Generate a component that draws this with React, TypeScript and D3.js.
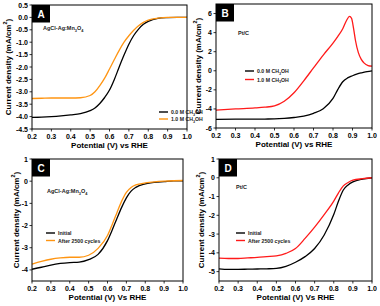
import React from "react";
import * as d3 from "d3";

// ---------- data ----------
const xA = [0.2, 0.25, 0.3, 0.35, 0.4, 0.45, 0.5, 0.525, 0.55, 0.575, 0.6, 0.625, 0.65, 0.675, 0.7, 0.725, 0.75, 0.775, 0.8, 0.85, 0.9, 0.95, 1.0];
const aBlack = [-4.03, -4.02, -4.0, -3.97, -3.93, -3.88, -3.76, -3.65, -3.47, -3.23, -2.93, -2.5, -2.0, -1.52, -1.08, -0.73, -0.47, -0.28, -0.16, -0.04, -0.01, 0, 0];
const aOrange = [-3.27, -3.26, -3.25, -3.25, -3.25, -3.24, -3.15, -3.0, -2.75, -2.45, -2.08, -1.7, -1.33, -1.0, -0.74, -0.52, -0.34, -0.2, -0.11, -0.03, 0, 0, 0];

const xB0 = [0.2, 0.3, 0.4, 0.45, 0.5, 0.55, 0.6, 0.65, 0.7, 0.75, 0.8, 0.825, 0.85, 0.875, 0.9, 0.925, 0.95, 0.975, 1.0];
const bBlack = [-5.1, -5.08, -5.07, -5.06, -5.05, -5.0, -4.9, -4.75, -4.46, -3.98, -2.9, -1.95, -1.15, -0.75, -0.52, -0.33, -0.2, -0.08, 0.0];
const xB1 = [0.2, 0.3, 0.4, 0.45, 0.5, 0.55, 0.6, 0.65, 0.7, 0.75, 0.8, 0.825, 0.85, 0.87, 0.885, 0.895, 0.905, 0.915, 0.93, 0.945, 0.96, 0.98, 1.0];
const bRed = [-4.12, -4.0, -3.9, -3.82, -3.68, -3.2, -2.3, -1.05, 0.3, 1.65, 2.9, 3.6, 4.4, 5.3, 5.7, 5.5, 4.5, 3.2, 1.9, 1.2, 0.8, 0.55, 0.48];

const xC = [0.2, 0.25, 0.3, 0.35, 0.4, 0.45, 0.5, 0.55, 0.6, 0.625, 0.65, 0.675, 0.7, 0.725, 0.75, 0.8, 0.85, 0.9, 0.95, 1.0];
const cBlack = [-3.97, -3.88, -3.78, -3.71, -3.67, -3.65, -3.54, -3.3, -2.68, -2.2, -1.68, -1.18, -0.75, -0.45, -0.28, -0.12, -0.05, -0.02, 0.01, 0.02];
const cOrange = [-3.74, -3.62, -3.52, -3.46, -3.43, -3.43, -3.34, -3.03, -2.45, -1.95, -1.42, -0.9, -0.5, -0.28, -0.17, -0.08, -0.03, 0, 0.02, 0.03];

const xD = [0.2, 0.25, 0.3, 0.35, 0.4, 0.45, 0.5, 0.55, 0.6, 0.65, 0.7, 0.75, 0.8, 0.825, 0.85, 0.875, 0.9, 0.95, 1.0];
const dBlack = [-4.85, -4.88, -4.88, -4.87, -4.86, -4.85, -4.83, -4.72, -4.5, -4.2, -3.77, -3.05, -1.96, -1.24, -0.65, -0.38, -0.22, -0.07, 0];
const dRed = [-4.28, -4.3, -4.3, -4.27, -4.24, -4.2, -4.16, -4.03, -3.77, -3.23, -2.63, -1.96, -1.24, -0.8, -0.43, -0.25, -0.13, -0.05, 0];

const xTicks = [0.2, 0.3, 0.4, 0.5, 0.6, 0.7, 0.8, 0.9, 1.0];
const yTicksA = [0.5, 0.0, -0.5, -1.0, -1.5, -2.0, -2.5, -3.0, -3.5, -4.0, -4.5];
const yTicksB = [6, 4, 2, 0, -2, -4, -6];
const yTicksC = [1, 0, -1, -2, -3, -4];
const yTicksD = [1, 0, -1, -2, -3, -4, -5];

const ORANGE = "#ff9512";
const RED = "#ff1a1a";
const BLACK = "#000000";
const FONT = "'Liberation Sans', Arial, sans-serif";

type Part = [string, boolean];
const agParts: Part[] = [["AgCl-Ag:Mn", false], ["3", true], ["O", false], ["4", true]];
const meth = (c: string): Part[] => [[c + " M CH", false], ["3", true], ["OH", false]];

function Rich({ parts, size }: { parts: Part[]; size: number }) {
  let shifted = false;
  return (
    <>
      {parts.map(([t, sub], i) => {
        let dy = 0;
        if (sub && !shifted) { dy = size * 0.3; shifted = true; }
        else if (!sub && shifted) { dy = -size * 0.3; shifted = false; }
        return <tspan key={i} dy={dy} fontSize={sub ? size * 0.7 : size}>{t}</tspan>;
      })}
    </>
  );
}

type Series = { xs: number[]; ys: number[]; color: string };
type LegendItem = { color: string; parts: Part[] };

type PanelProps = {
  letter: string;
  left: number; right: number; top: number; bottom: number;
  yDomain: [number, number];
  yTicks: number[];
  yFmt: (v: number) => string;
  series: Series[];
  ylabelX: number;
  xlabel: string;
  annot: Part[];
  annotX: number; annotY: number;
  legend: LegendItem[];
  legX: number; legY: number; legGap: number;
};

function Panel(p: PanelProps) {
  const x = d3.scaleLinear().domain([0.2, 1.0]).range([p.left, p.right]);
  const y = d3.scaleLinear().domain(p.yDomain).range([p.bottom, p.top]);
  const line = d3.line<[number, number]>().x(d => x(d[0])).y(d => y(d[1])).curve(d3.curveMonotoneX);
  const cy = (p.top + p.bottom) / 2;
  return (
    <g fontFamily={FONT}>
      {p.series.map((s, i) => (
        <path key={i} d={line(s.xs.map((v, j) => [v, s.ys[j]] as [number, number])) || ""} fill="none" stroke={s.color} strokeWidth={1.3} />
      ))}
      <rect x={p.left} y={p.top} width={p.right - p.left} height={p.bottom - p.top} fill="none" stroke="#000" strokeWidth={1} />
      {xTicks.map(t => (
        <g key={"x" + t}>
          <line x1={x(t)} x2={x(t)} y1={p.bottom} y2={p.bottom + 2.5} stroke="#000" strokeWidth={0.8} />
          <text x={x(t)} y={p.bottom + 9.5} fontSize={7} fontWeight="bold" textAnchor="middle">{t.toFixed(1)}</text>
        </g>
      ))}
      {p.yTicks.map(t => (
        <g key={"y" + t}>
          <line x1={p.left - 2.5} x2={p.left} y1={y(t)} y2={y(t)} stroke="#000" strokeWidth={0.8} />
          <text x={p.left - 4} y={y(t) + 2.5} fontSize={7} fontWeight="bold" textAnchor="end">{p.yFmt(t)}</text>
        </g>
      ))}
      <text x={(p.left + p.right) / 2} y={p.bottom + 19} fontSize={8} fontWeight="bold" textAnchor="middle">{p.xlabel}</text>
      <text transform={`translate(${p.ylabelX},${cy}) rotate(-90)`} fontSize={8} fontWeight="bold" textAnchor="middle" dominantBaseline="central">
        <tspan>Current density (mA/cm</tspan><tspan dy={-3} fontSize={5.5}>2</tspan><tspan dy={3}>)</tspan>
      </text>
      <rect x={p.left} y={p.top} width={18} height={17.5} fill="#000" />
      <text x={p.left + 9} y={p.top + 12.5} fontSize={10} fontWeight="bold" fill="#fff" textAnchor="middle">{p.letter}</text>
      <text x={p.annotX} y={p.annotY} fontWeight="bold" fill="#222"><Rich parts={p.annot} size={5.5} /></text>
      {p.legend.map((l, i) => (
        <g key={"l" + i}>
          <line x1={p.legX} x2={p.legX + 9} y1={p.legY + i * p.legGap} y2={p.legY + i * p.legGap} stroke={l.color} strokeWidth={1.4} />
          <text x={p.legX + 12} y={p.legY + i * p.legGap + 2} fontWeight="bold" fill="#222"><Rich parts={l.parts} size={5.2} /></text>
        </g>
      ))}
    </g>
  );
}

const fmt1 = (v: number) => v.toFixed(1);
const fmt0 = (v: number) => String(v);

export default function App() {
  return (
    <svg width={380} height={306} style={{ position: "absolute", left: 0, top: 0, background: "#fff" }}>
      <Panel letter="A" left={32} right={187} top={5} bottom={129} yDomain={[-4.5, 0.5]} yTicks={yTicksA} yFmt={fmt1}
        series={[{ xs: xA, ys: aBlack, color: BLACK }, { xs: xA, ys: aOrange, color: ORANGE }]}
        ylabelX={7.5} xlabel="Potential (V) vs RHE"
        annot={agParts} annotX={43} annotY={30}
        legend={[{ color: BLACK, parts: meth("0.0") }, { color: ORANGE, parts: meth("1.0") }]}
        legX={159} legY={112} legGap={7} />
      <Panel letter="B" left={216} right={372} top={4} bottom={128} yDomain={[-6, 7]} yTicks={yTicksB} yFmt={fmt0}
        series={[{ xs: xB0, ys: bBlack, color: BLACK }, { xs: xB1, ys: bRed, color: RED }]}
        ylabelX={198} xlabel="Potential (V) vs RHE"
        annot={[["Pt/C", false]]} annotX={238} annotY={35}
        legend={[{ color: BLACK, parts: meth("0.0") }, { color: RED, parts: meth("1.0") }]}
        legX={245} legY={71} legGap={8.5} />
      <Panel letter="C" left={32} right={183} top={159} bottom={281} yDomain={[-4.5, 1]} yTicks={yTicksC} yFmt={fmt0}
        series={[{ xs: xC, ys: cBlack, color: BLACK }, { xs: xC, ys: cOrange, color: ORANGE }]}
        ylabelX={16} xlabel="Potential (V) Vs RHE"
        annot={agParts} annotX={47} annotY={193}
        legend={[{ color: BLACK, parts: [["Initial", false]] }, { color: ORANGE, parts: [["After 2500 cycles", false]] }]}
        legX={46} legY={233} legGap={7.5} />
      <Panel letter="D" left={219} right={372} top={159} bottom={281} yDomain={[-5.5, 1]} yTicks={yTicksD} yFmt={fmt0}
        series={[{ xs: xD, ys: dBlack, color: BLACK }, { xs: xD, ys: dRed, color: RED }]}
        ylabelX={201} xlabel="Potential (V) Vs RHE"
        annot={[["Pt/C", false]]} annotX={236} annotY={189}
        legend={[{ color: BLACK, parts: [["Initial", false]] }, { color: RED, parts: [["After 2500 cycles", false]] }]}
        legX={236} legY={233} legGap={7.5} />
    </svg>
  );
}
